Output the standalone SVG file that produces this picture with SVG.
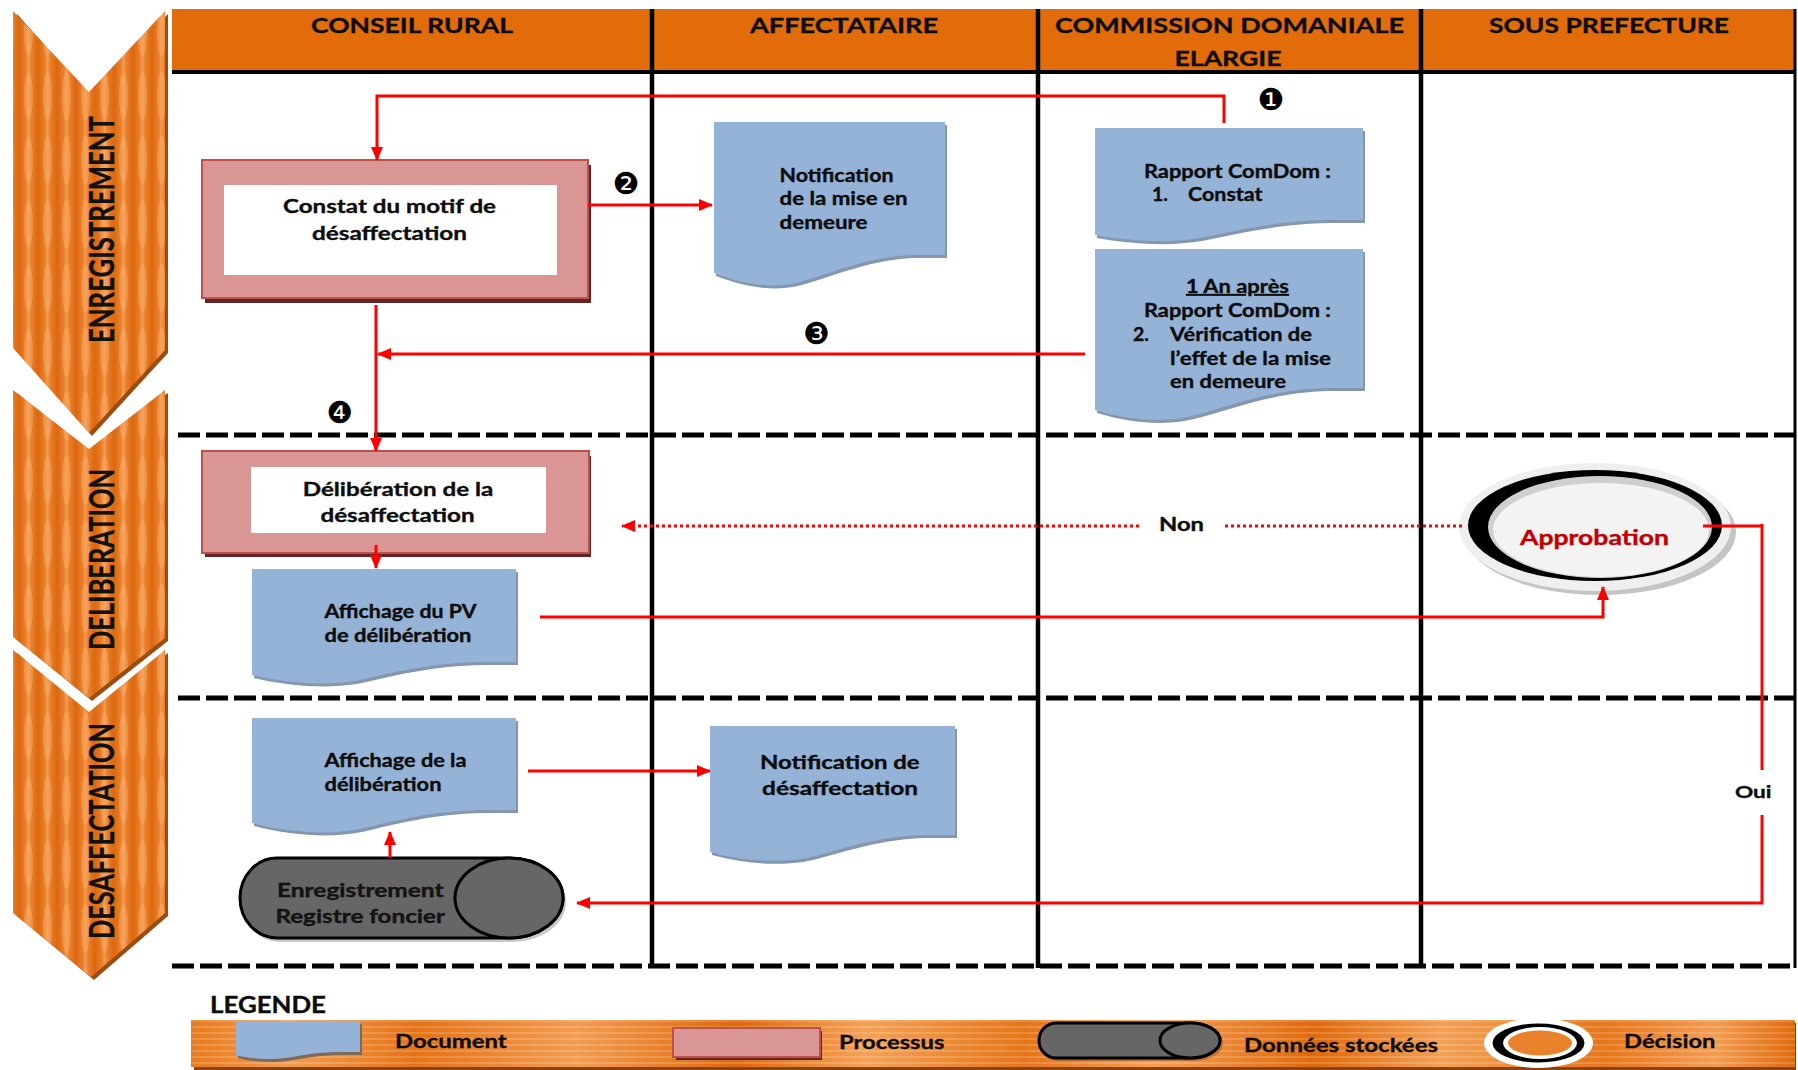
<svg xmlns="http://www.w3.org/2000/svg" width="1798" height="1070" viewBox="0 0 1798 1070">
<style>
text{font-family:Lato,"Liberation Sans",Arial,sans-serif;font-weight:700;fill:#0d0d0d;stroke:#0d0d0d;stroke-width:0.35}
.hdr{font-size:21px}
.box{font-size:19px}
.doc{font-size:18px}
.phase{font-size:34px;fill:#111}
.lane{stroke:#000;stroke-width:4.5}
.dash{stroke:#000;stroke-width:5;stroke-dasharray:22 6}
.con{fill:none;stroke:#ff0000;stroke-width:3}
.dot{fill:none;stroke:#ff0000;stroke-width:3;stroke-dasharray:3 3}
.docf{fill:#95b3d7}
.docs{fill:#8496b0}
.procO{fill:#d99694;stroke:#c0504d;stroke-width:2}
.procS{fill:#632523}
.store{fill:#666666;stroke:#000;stroke-width:3}
.badge{font-family:"DejaVu Sans",sans-serif;font-weight:400;font-size:30px;fill:#000;stroke:none}
</style>
<defs>
<marker id="ah" viewBox="0 0 14 12" refX="13" refY="6" markerWidth="14" markerHeight="12" markerUnits="userSpaceOnUse" orient="auto"><path d="M0,0 L14,6 L0,12 z" fill="#ff0000"/></marker>
<linearGradient id="woodH" x1="0" y1="0" x2="1" y2="0">
<stop offset="0" stop-color="#dc680e"/><stop offset="0.35" stop-color="#e97f2c"/><stop offset="0.5" stop-color="#f39a4e"/><stop offset="0.65" stop-color="#e97f2c"/><stop offset="1" stop-color="#dc680e"/>
</linearGradient>
<pattern id="wood" patternUnits="userSpaceOnUse" width="19" height="64">
<rect width="19" height="64" fill="url(#woodH)"/>
<ellipse cx="9.5" cy="32" rx="4.5" ry="24" fill="#fbb573" opacity="0.4"/>
</pattern>
<linearGradient id="legG" x1="0" y1="0" x2="1" y2="0">
<stop offset="0" stop-color="#e77a1c"/><stop offset="0.06" stop-color="#f39d52"/><stop offset="0.14" stop-color="#e47316"/><stop offset="0.24" stop-color="#f39c52"/><stop offset="0.34" stop-color="#de690b"/><stop offset="0.42" stop-color="#f4a257"/><stop offset="0.52" stop-color="#e57518"/><stop offset="0.6" stop-color="#f49f55"/><stop offset="0.7" stop-color="#df690b"/><stop offset="0.78" stop-color="#f3a055"/><stop offset="0.88" stop-color="#e6761a"/><stop offset="0.95" stop-color="#f39d52"/><stop offset="1" stop-color="#e06a0c"/>
</linearGradient>
<pattern id="hstripes" patternUnits="userSpaceOnUse" width="40" height="6">
<rect width="40" height="2" fill="#ffffff" opacity="0.16"/>
</pattern>
</defs>

<rect width="1798" height="1070" fill="#ffffff"/>

<!-- header -->
<g id="header">
<rect x="172" y="9" width="1624" height="63" fill="#e36c0a"/>
<line x1="172" y1="72" x2="1796" y2="72" stroke="#000" stroke-width="4"/>
<text class="hdr" x="412" y="33" text-anchor="middle" textLength="202" lengthAdjust="spacingAndGlyphs">CONSEIL RURAL</text>
<text class="hdr" x="844" y="33" text-anchor="middle" textLength="188" lengthAdjust="spacingAndGlyphs">AFFECTATAIRE</text>
<text class="hdr" x="1229.5" y="33" text-anchor="middle" textLength="349" lengthAdjust="spacingAndGlyphs">COMMISSION DOMANIALE</text>
<text class="hdr" x="1228" y="66" text-anchor="middle" textLength="107" lengthAdjust="spacingAndGlyphs">ELARGIE</text>
<text class="hdr" x="1609" y="33" text-anchor="middle" textLength="240" lengthAdjust="spacingAndGlyphs">SOUS PREFECTURE</text>
</g>

<!-- swimlane grid -->
<g id="grid">
<line class="dash" x1="178" y1="435" x2="1796" y2="435"/>
<line class="dash" x1="178" y1="698" x2="1796" y2="698"/>
<line class="dash" x1="172" y1="966" x2="1796" y2="966"/>
<line class="lane" x1="652" y1="9" x2="652" y2="968"/>
<line class="lane" x1="1038" y1="9" x2="1038" y2="968"/>
<line class="lane" x1="1421" y1="9" x2="1421" y2="968"/>
<line x1="1795" y1="9" x2="1795" y2="968" stroke="#000" stroke-width="3"/>
</g>

<!-- phase chevrons -->
<g id="phase-enregistrement">
<polygon points="17,14 89,95 168,14 168,353 92,436 17,351" fill="#9a4c12"/>
<polygon points="13,11 89,92 165,11 165,350 89,433 13,348" fill="url(#wood)"/>
<text class="phase" transform="translate(114,229.5) rotate(-90)" text-anchor="middle" textLength="227" lengthAdjust="spacingAndGlyphs">ENREGISTREMENT</text>
</g>
<g id="phase-deliberation">
<polygon points="17,393 89,452 168,393 168,641 92,701 17,640" fill="#9a4c12"/>
<polygon points="13,390 89,449 165,390 165,638 89,698 13,637" fill="url(#wood)"/>
<text class="phase" transform="translate(114,559.5) rotate(-90)" text-anchor="middle" textLength="181" lengthAdjust="spacingAndGlyphs">DELIBERATION</text>
</g>
<g id="phase-desaffectation">
<polygon points="17,653 89,715 168,653 168,916 94,980 17,916" fill="#9a4c12"/>
<polygon points="13,650 89,712 165,650 165,913 91,977 13,913" fill="url(#wood)"/>
<text class="phase" transform="translate(114,831) rotate(-90)" text-anchor="middle" textLength="216" lengthAdjust="spacingAndGlyphs">DESAFFECTATION</text>
</g>

<!-- nodes -->
<g id="node-constat">
<rect class="procS" x="205" y="165" width="386" height="138"/>
<rect class="procO" x="202" y="160" width="386" height="138"/>
<rect x="224" y="185" width="333" height="90" fill="#ffffff"/>
<text class="box" x="283" y="213" textLength="213" lengthAdjust="spacingAndGlyphs">Constat du motif de</text>
<text class="box" x="312" y="240" textLength="155" lengthAdjust="spacingAndGlyphs">désaffectation</text>
</g>

<g id="node-notif-demeure">
<path class="docs" transform="translate(2,3)" d="M714,122 H945 V255 H915 C870,256 835,272 800,282 C775,289 745,285 714,273 Z"/>
<path class="docf" d="M714,122 H945 V255 H915 C870,256 835,272 800,282 C775,289 745,285 714,273 Z"/>
<text class="doc" x="779.5" y="182" textLength="114" lengthAdjust="spacingAndGlyphs">Notification</text>
<text class="doc" x="779.5" y="205" textLength="128" lengthAdjust="spacingAndGlyphs">de la mise en</text>
<text class="doc" x="779.5" y="229" textLength="88" lengthAdjust="spacingAndGlyphs">demeure</text>
</g>

<g id="node-rapport1">
<path class="docs" transform="translate(2,3)" d="M1095,128 H1363 V220 H1328 C1275,221 1240,230 1200,238 C1170,243 1135,242 1095,235 Z"/>
<path class="docf" d="M1095,128 H1363 V220 H1328 C1275,221 1240,230 1200,238 C1170,243 1135,242 1095,235 Z"/>
<text class="doc" x="1144" y="178" textLength="187" lengthAdjust="spacingAndGlyphs">Rapport ComDom :</text>
<text class="doc" x="1152" y="201" textLength="16" lengthAdjust="spacingAndGlyphs">1.</text>
<text class="doc" x="1188" y="201" textLength="74.5" lengthAdjust="spacingAndGlyphs">Constat</text>
</g>

<g id="node-rapport2">
<path class="docs" transform="translate(2,3)" d="M1095,249 H1363 V388 H1328 C1275,389 1240,403 1200,414 C1170,423 1135,422 1095,410 Z"/>
<path class="docf" d="M1095,249 H1363 V388 H1328 C1275,389 1240,403 1200,414 C1170,423 1135,422 1095,410 Z"/>
<text class="doc" x="1186" y="293" textLength="103" lengthAdjust="spacingAndGlyphs" text-decoration="underline">1 An après</text>
<text class="doc" x="1144" y="317" textLength="187" lengthAdjust="spacingAndGlyphs">Rapport ComDom :</text>
<text class="doc" x="1133" y="341" textLength="16" lengthAdjust="spacingAndGlyphs">2.</text>
<text class="doc" x="1170" y="341" textLength="142" lengthAdjust="spacingAndGlyphs">Vérification de</text>
<text class="doc" x="1170" y="365" textLength="161" lengthAdjust="spacingAndGlyphs">l’effet de la mise</text>
<text class="doc" x="1170" y="388" textLength="116" lengthAdjust="spacingAndGlyphs">en demeure</text>
</g>

<g id="node-deliberation">
<rect class="procS" x="205" y="456" width="386" height="101"/>
<rect class="procO" x="202" y="451" width="387" height="102"/>
<rect x="251" y="467" width="295" height="66" fill="#ffffff"/>
<text class="box" x="302.7" y="496" textLength="190.6" lengthAdjust="spacingAndGlyphs">Délibération de la</text>
<text class="box" x="320.5" y="522" textLength="154" lengthAdjust="spacingAndGlyphs">désaffectation</text>
</g>

<g id="node-affichage-pv">
<path class="docs" transform="translate(2,3)" d="M252,569 H516 V662 H482 C430,663 395,672 360,680 C330,686 290,684 252,675 Z"/>
<path class="docf" d="M252,569 H516 V662 H482 C430,663 395,672 360,680 C330,686 290,684 252,675 Z"/>
<text class="doc" x="324.5" y="618" textLength="152" lengthAdjust="spacingAndGlyphs">Affichage du PV</text>
<text class="doc" x="324.5" y="642" textLength="147" lengthAdjust="spacingAndGlyphs">de délibération</text>
</g>

<g id="node-approbation">
<ellipse cx="1600" cy="532" rx="136" ry="63" fill="#c4c4c4"/>
<ellipse cx="1595" cy="527" rx="136" ry="64" fill="#efefef"/>
<ellipse cx="1595" cy="525.5" rx="127" ry="55.5" fill="#000000"/>
<ellipse cx="1600" cy="527" rx="112" ry="51" fill="#cfcfcf"/>
<ellipse cx="1601" cy="530" rx="108" ry="47" fill="#f3f3f3"/>
<text x="1520" y="545" font-size="21" style="fill:#c00000;stroke:#c00000" textLength="149" lengthAdjust="spacingAndGlyphs">Approbation</text>
</g>

<g id="node-affichage-delib">
<path class="docs" transform="translate(2,3)" d="M252,718 H516 V810 H482 C430,811 395,821 360,829 C330,835 290,833 252,823 Z"/>
<path class="docf" d="M252,718 H516 V810 H482 C430,811 395,821 360,829 C330,835 290,833 252,823 Z"/>
<text class="doc" x="324.5" y="767" textLength="142" lengthAdjust="spacingAndGlyphs">Affichage de la</text>
<text class="doc" x="324.5" y="791" textLength="117" lengthAdjust="spacingAndGlyphs">délibération</text>
</g>

<g id="node-notif-desaff">
<path class="docs" transform="translate(2,3)" d="M710,726 H955 V835 H925 C880,836 850,847 815,856 C790,863 750,863 710,852 Z"/>
<path class="docf" d="M710,726 H955 V835 H925 C880,836 850,847 815,856 C790,863 750,863 710,852 Z"/>
<text class="doc" x="760" y="769" textLength="159.6" lengthAdjust="spacingAndGlyphs">Notification de</text>
<text class="doc" x="762" y="795" textLength="156" lengthAdjust="spacingAndGlyphs">désaffectation</text>
</g>

<g id="node-registre">
<path d="M280,862 H512 A54 40 0 0 1 512 942 H280 A38 40 0 0 1 280 862 Z" fill="#c8c8c8"/>
<path class="store" d="M277,858 H509 A54 40 0 0 1 509 938 H277 A37 40 0 0 1 277 858 Z"/>
<ellipse class="store" cx="509" cy="898" rx="54" ry="40"/>
<text class="box" x="277" y="897" textLength="166.5" lengthAdjust="spacingAndGlyphs" style="fill:#141414">Enregistrement</text>
<text class="box" x="275.4" y="923" textLength="169.6" lengthAdjust="spacingAndGlyphs" style="fill:#141414">Registre foncier</text>
</g>

<!-- step badges -->
<g id="badges">
<text class="badge" x="1271" y="99" text-anchor="middle" dominant-baseline="central">❶</text>
<text class="badge" x="626" y="183" text-anchor="middle" dominant-baseline="central">❷</text>
<text class="badge" x="816.5" y="333" text-anchor="middle" dominant-baseline="central">❸</text>
<text class="badge" x="340" y="412" text-anchor="middle" dominant-baseline="central">❹</text>
</g>

<!-- connectors -->
<g id="connectors">
<path class="con" d="M1224,123 V96 H377 V160" marker-end="url(#ah)"/>
<path class="con" d="M588,205 H712" marker-end="url(#ah)"/>
<path class="con" d="M1085,354 H378" marker-end="url(#ah)"/>
<path class="con" d="M376,305 V451" marker-end="url(#ah)"/>
<path class="con" d="M376,545 V568" marker-end="url(#ah)"/>
<path class="con" d="M540,617 H1603 V587" marker-end="url(#ah)"/>
<path class="dot" d="M1139,526 H622" marker-end="url(#ah)"/>
<path class="dot" d="M1462,526 H1225"/>
<text x="1159" y="531" font-size="18.5" textLength="45" lengthAdjust="spacingAndGlyphs">Non</text>
<path class="con" d="M1703,526 H1762" stroke-width="5"/>
<path class="con" d="M1762,524 V770"/>
<path class="con" d="M1762,815 V903 H577" marker-end="url(#ah)"/>
<text x="1735" y="798" font-size="17" textLength="36.6" lengthAdjust="spacingAndGlyphs">Oui</text>
<path class="con" d="M528,771 H710" marker-end="url(#ah)"/>
<path class="con" d="M390,858 V832" marker-end="url(#ah)"/>
</g>

<!-- legend -->
<g id="legend">
<text x="210" y="1013" font-size="22" textLength="116" lengthAdjust="spacingAndGlyphs">LEGENDE</text>
<rect x="194" y="1023" width="1602" height="47" fill="#8a4310"/>
<rect x="191" y="1020" width="1604" height="47" fill="url(#legG)"/>
<rect x="191" y="1020" width="1604" height="47" fill="url(#hstripes)"/>
<g id="legend-document">
<path transform="translate(2,3)" fill="#7c6a5a" d="M236,1021 H360 V1052 H340 C315,1052 300,1056 285,1058 C270,1060 250,1059 236,1055 Z"/>
<path class="docf" d="M236,1021 H360 V1052 H340 C315,1052 300,1056 285,1058 C270,1060 250,1059 236,1055 Z"/>
<text x="395" y="1048" font-size="19" textLength="111.6" lengthAdjust="spacingAndGlyphs">Document</text>
</g>
<g id="legend-processus">
<rect class="procS" x="676" y="1031" width="146" height="29"/>
<rect class="procO" x="673" y="1028" width="147" height="29"/>
<text x="839" y="1049" font-size="19" textLength="105.4" lengthAdjust="spacingAndGlyphs">Processus</text>
</g>
<g id="legend-donnees">
<path d="M1059,1026 H1193 A30 17.5 0 0 1 1193 1061 H1059 A17 17.5 0 0 1 1059 1026 Z" fill="#9c5a2a" opacity="0.6"/>
<path class="store" stroke-width="2.5" d="M1056,1023 H1190 A30 17.5 0 0 1 1190 1058 H1056 A17 17.5 0 0 1 1056 1023 Z"/>
<ellipse class="store" stroke-width="2.5" cx="1190" cy="1040.5" rx="30" ry="17.5"/>
<text x="1244" y="1052" font-size="19" textLength="194" lengthAdjust="spacingAndGlyphs">Données stockées</text>
</g>
<g id="legend-decision">
<ellipse cx="1538.5" cy="1043" rx="54.5" ry="25" fill="#ffffff"/>
<ellipse cx="1538.5" cy="1043" rx="46" ry="19.5" fill="#000000"/>
<ellipse cx="1540" cy="1043" rx="37" ry="16" fill="#ffffff"/>
<ellipse cx="1540" cy="1043" rx="32" ry="12.5" fill="#e9822a"/>
<text x="1624" y="1048" font-size="19" textLength="91.5" lengthAdjust="spacingAndGlyphs">Décision</text>
</g>
</g>
</svg>
